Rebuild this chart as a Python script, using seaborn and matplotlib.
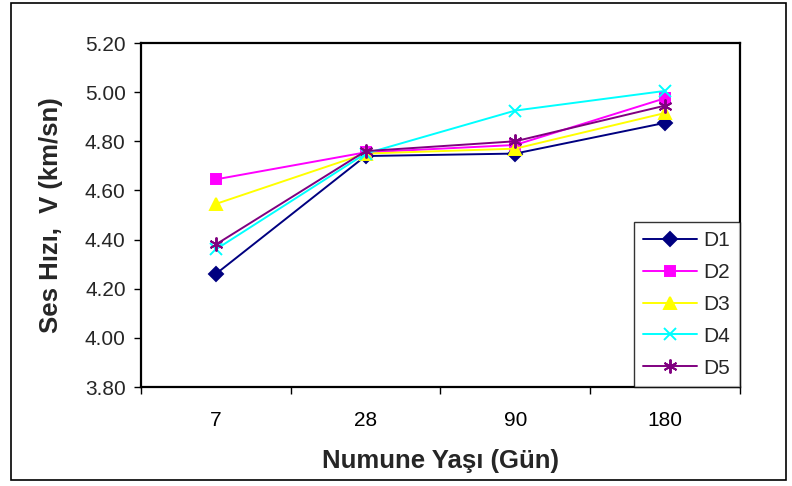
import matplotlib
matplotlib.use("Agg")
import matplotlib.pyplot as plt
import seaborn as sns
import pandas as pd
from matplotlib.patches import Rectangle

categories = ["7", "28", "90", "180"]
series_names = ["D1", "D2", "D3", "D4", "D5"]
D1 = [4.26, 4.74, 4.75, 4.875]
D2 = [4.645, 4.755, 4.785, 4.975]
D3 = [4.545, 4.75, 4.77, 4.915]
D4 = [4.36, 4.75, 4.925, 5.005]
D5 = [4.38, 4.76, 4.80, 4.945]
y_ticks = [3.80, 4.00, 4.20, 4.40, 4.60, 4.80, 5.00, 5.20]

values = [D1, D2, D3, D4, D5]
rows = []
for name, vals in zip(series_names, values):
    for i, v in enumerate(vals):
        rows.append({"pos": i, "v": v, "seri": name})
df = pd.DataFrame(rows)

sns.set_theme(style="white")
plt.rcParams["font.family"] = ["Liberation Sans", "DejaVu Sans"]

palette = {"D1": "#000080", "D2": "#FF00FF", "D3": "#FFFF00", "D4": "#00FFFF", "D5": "#800080"}
markers = {"D1": "D", "D2": "s", "D3": "^", "D4": "x", "D5": (6, 2, 0)}
msizes = {"D1": 7, "D2": 7, "D3": 8, "D4": 9, "D5": 10}

fig = plt.figure(figsize=(7.92, 4.86), dpi=100)
ax = fig.add_axes([0.178, 0.2037, 0.756, 0.7078])

for name in series_names:
    c = palette[name]
    sns.lineplot(data=df[df["seri"] == name], x="pos", y="v", color=c, ax=ax,
                 linewidth=1.4, marker=markers[name], markersize=msizes[name],
                 markeredgewidth=1.4, markeredgecolor=c, markerfacecolor=c,
                 label=name)

ax.set_xlim(-0.5, 3.5)
ax.set_ylim(3.80, 5.20)
ax.set_yticks(y_ticks)
ax.set_yticklabels([f"{t:.2f}" for t in y_ticks], fontsize=15)
ax.set_xticks(range(len(categories)))
ax.set_xticklabels(categories, fontsize=15)
ax.set_xticks([-0.5, 0.5, 1.5, 2.5, 3.5], minor=True)
ax.tick_params(axis="x", which="major", length=0, pad=17, colors="black")
ax.tick_params(axis="x", which="minor", length=5, width=1, color="black", direction="out", bottom=True)
ax.tick_params(axis="y", which="major", length=5, width=1, color="black", direction="out", left=True, pad=6)
for s in ax.spines.values():
    s.set_color("black")
    s.set_linewidth(1.6)

ax.set_xlabel("Numune Yaşı (Gün)", fontsize=18.5, fontweight="bold", labelpad=14)
ax.set_ylabel("Ses Hızı,  V (km/sn)", fontsize=18.5, fontweight="bold", labelpad=16)

handles, labels = ax.get_legend_handles_labels()
leg = ax.legend(handles, labels, loc="lower right", bbox_to_anchor=(1.0, 0.0),
                borderaxespad=0, fontsize=15, frameon=True, fancybox=False,
                handlelength=2.6, labelspacing=0.62, borderpad=0.45, handletextpad=0.3)
leg.get_frame().set_edgecolor("black")
leg.get_frame().set_linewidth(1.0)

fig.patches.append(Rectangle((0.014, 0.012), 0.978, 0.982, transform=fig.transFigure,
                             fill=False, edgecolor="black", linewidth=1.2))

fig.savefig("out.png", dpi=100)
